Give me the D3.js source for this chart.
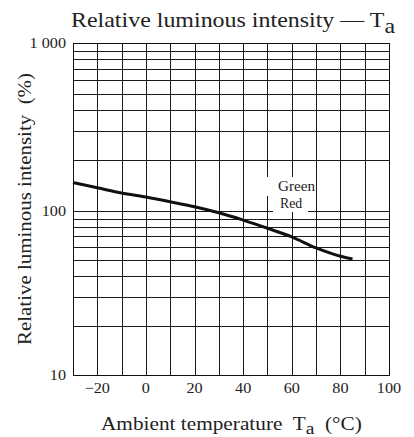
<!DOCTYPE html>
<html><head><meta charset="utf-8">
<script src="https://cdn.jsdelivr.net/npm/d3@7"></script>
<style>
html,body{margin:0;padding:0;background:#fff;}
text{font-family:"Liberation Serif","DejaVu Serif","Times New Roman",Times,serif;}
</style></head>
<body><svg id="c" width="414" height="437"></svg>
<script>
// Data
const temps = [-30, -20, -10, 0, 10, 20, 30, 40, 50, 60, 70, 80, 85];
const intensity = [147.5, 137.5, 128, 121, 113.5, 106, 97.5, 88, 78.5, 69.5, 59.5, 53, 51];
const xTicks = [-20, 0, 20, 40, 60, 80, 100];
const xTickLabels = ["\u221220", "0", "20", "40", "60", "80", "100"];
const yTicks = [10, 100, 1000];
const yTickLabels = ["10", "100", "1 000"];
const xGrid = d3.range(-30, 101, 10);
const yGrid = [];
[10, 100].forEach(d => { for (let k = 1; k <= 9; k++) yGrid.push(d * k); });
yGrid.push(1000);
const seriesLabels = ["Green", "Red"];

const FONT = "Liberation Serif, DejaVu Serif, serif";
const svg = d3.select("#c");
const L = 73, R = 389, T = 43, B = 375;
const x = d3.scaleLinear().domain([-30, 100]).range([L, R]);
const y = d3.scaleLog().domain([10, 100, 1000]).range([B, 211, T]);

// grid
const g = svg.append("g").attr("shape-rendering", "crispEdges");
g.selectAll("line.v").data(xGrid).join("line")
  .attr("x1", d => Math.round(x(d)) + 0.5).attr("x2", d => Math.round(x(d)) + 0.5)
  .attr("y1", T).attr("y2", B).attr("stroke", "#1a1a1a").attr("stroke-width", 1);
g.selectAll("line.h").data(yGrid).join("line")
  .attr("y1", d => Math.round(y(d)) + 0.5).attr("y2", d => Math.round(y(d)) + 0.5)
  .attr("x1", L).attr("x2", R).attr("stroke", "#1a1a1a").attr("stroke-width", 1);
g.append("rect").attr("x", L + 0.5).attr("y", T + 0.5).attr("width", R - L).attr("height", B - T)
  .attr("fill", "none").attr("stroke", "#111").attr("stroke-width", 1.3);

// label boxes
svg.append("rect").attr("x", 267).attr("y", 177).attr("width", 48).attr("height", 19).attr("fill", "#fff");
svg.append("rect").attr("x", 273).attr("y", 195).attr("width", 35).attr("height", 17).attr("fill", "#fff");

// curve
const line = d3.line().x((d, i) => x(temps[i])).y(d => y(d)).curve(d3.curveMonotoneX);
svg.append("path").attr("d", line(intensity)).attr("fill", "none")
  .attr("stroke", "#111").attr("stroke-width", 3).attr("stroke-linejoin", "round");

function txt(sel) { return sel.attr("font-family", FONT).attr("fill", "#222"); }
// stretch text horizontally (in its own coordinates) to a target width, anchored at start
function fit(sel, x0, target) {
  const w = sel.node().getBBox().width;
  const s = target / w;
  sel.attr("transform", `translate(${x0},0) scale(${s},1) translate(${-x0},0)`);
}

// series labels
const gl = txt(svg.append("text")).attr("x", 278).attr("y", 191).attr("font-size", 14.5).text(seriesLabels[0]);
fit(gl, 278, 38);
const rl = txt(svg.append("text")).attr("x", 280).attr("y", 208).attr("font-size", 14.5).text(seriesLabels[1]);
fit(rl, 280, 23);

// tick labels
txt(svg.selectAll("text.xt").data(xTicks).join("text"))
  .attr("x", d => x(d)).attr("y", 393).attr("text-anchor", "middle")
  .attr("font-size", 15).text((d, i) => xTickLabels[i])
  .attr("transform", d => `translate(${x(d)},0) scale(1.08,1) translate(${-x(d)},0)`);
txt(svg.selectAll("text.yt").data(yTicks).join("text"))
  .attr("x", 66).attr("y", d => y(d)).attr("dy", "0.35em").attr("text-anchor", "end")
  .attr("font-size", 15).text((d, i) => yTickLabels[i])
  .attr("transform", "translate(66,0) scale(1.08,1) translate(-66,0)");

// title
const title = txt(svg.append("text")).attr("x", 71).attr("y", 27).attr("font-size", 21.5);
title.append("tspan").text("Relative luminous intensity \u2014 T");
title.append("tspan").attr("dy", 6).text("a");
fit(title, 71, 323);

// x axis label
const xl = txt(svg.append("text")).attr("x", 101).attr("y", 430).attr("font-size", 18.5)
  .attr("xml:space", "preserve").style("white-space", "pre");
xl.append("tspan").text("Ambient temperature  T");
xl.append("tspan").attr("dy", 4).attr("font-size", 17).text("a");
xl.append("tspan").attr("dy", -4).text("  (\u00B0C)");
fit(xl, 101, 261);

// y axis label
const yg = svg.append("g").attr("transform", "translate(31,209) rotate(-90)");
const yl = txt(yg.append("text")).attr("x", -136).attr("y", 0).attr("font-size", 18.5)
  .style("white-space", "pre").text("Relative luminous intensity  (%)");
fit(yl, -136, 272);
</script></body></html>
